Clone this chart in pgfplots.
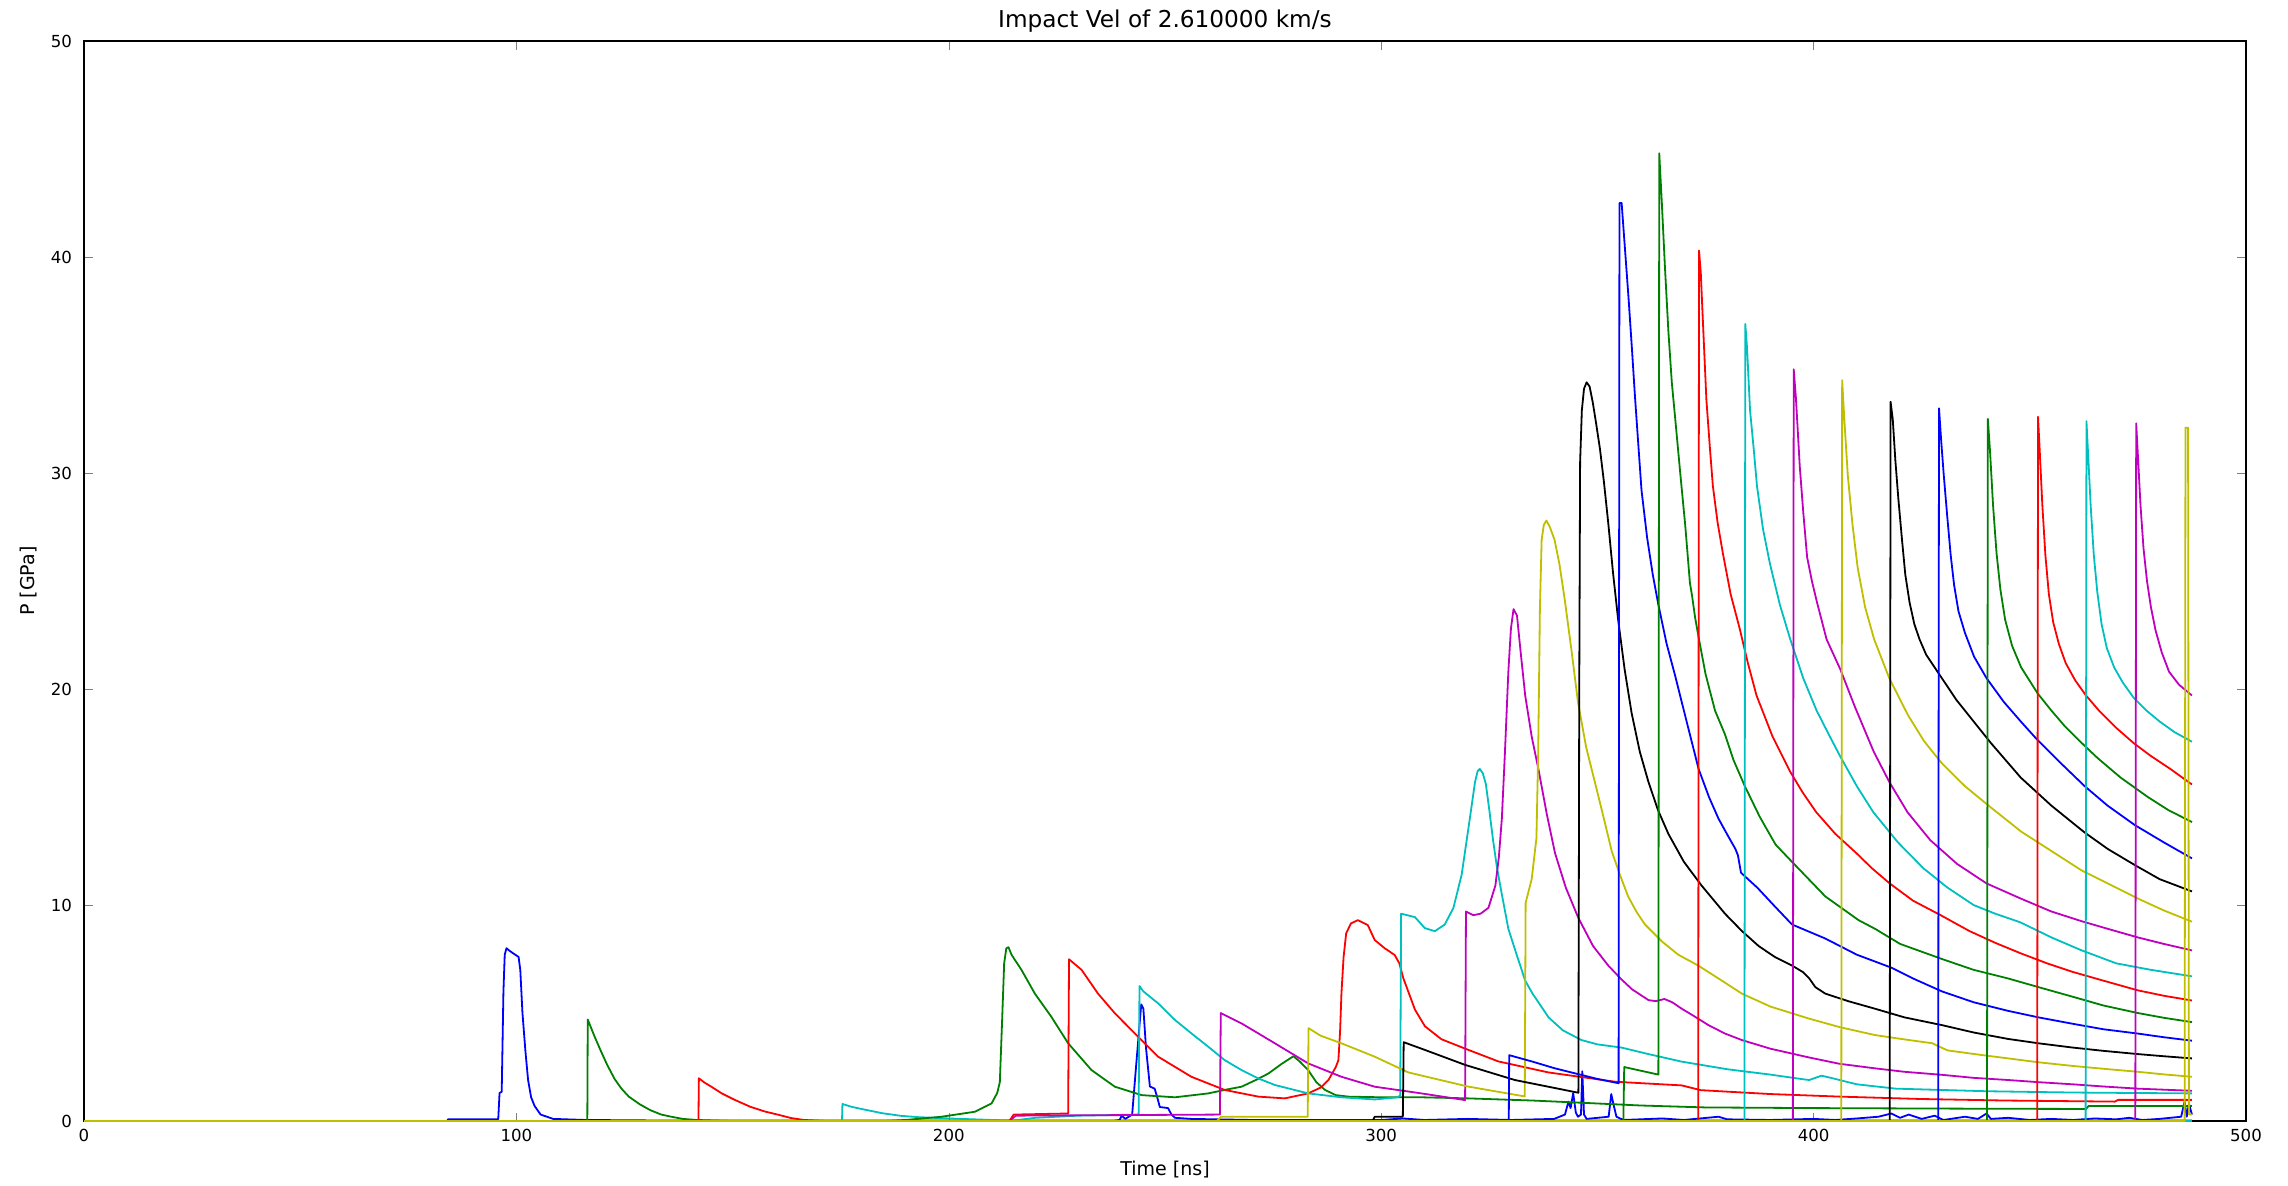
\documentclass[border=0pt]{standalone}
\usepackage{fontspec}
\setmainfont{DejaVu Sans}
\usepackage{pgfplots}
\pgfplotsset{compat=1.18}
\definecolor{mb}{rgb}{0,0,1}
\definecolor{mg}{rgb}{0,0.5,0}
\definecolor{mr}{rgb}{1,0,0}
\definecolor{mc}{rgb}{0,0.75,0.75}
\definecolor{mm}{rgb}{0.75,0,0.75}
\definecolor{my}{rgb}{0.75,0.75,0}
\definecolor{mk}{rgb}{0,0,0}
\begin{document}
\begin{tikzpicture}
\begin{axis}[
 scale only axis, width=1081pt, height=540pt,
 xmin=0, xmax=500, ymin=0, ymax=50,
 xtick={0,100,200,300,400,500}, ytick={0,10,20,30,40,50},
 tick align=inside,
 /pgf/number format/assume math mode=true,
 tick label style={font=\fontsize{8.3}{10}\selectfont},
 xticklabel style={yshift=-0.5pt},
 yticklabel style={xshift=-2.5pt},
 every axis title shift=0pt,
 title={Impact Vel of 2.610000 km/s},
 title style={at={(axis description cs:0.5,1)},anchor=base,yshift=6.6pt,inner sep=0pt,font=\fontsize{11.6}{14}\selectfont},
 xlabel={Time [ns]},
 xlabel style={at={(axis description cs:0.5,0)},anchor=base,yshift=-27pt,inner sep=0pt,font=\fontsize{9.5}{12}\selectfont},
 ylabel={P [GPa]},
 ylabel style={at={(axis description cs:-0.02544,0.5)},anchor=center,inner sep=0pt,font=\fontsize{9.5}{12}\selectfont},
 axis line style={line width=0.9pt},
 every axis plot/.append style={line width=0.9pt,line join=round},
]
% b1
\addplot[mb] coordinates {(0,0) (84,0) (84.2,0.08) (95.8,0.08) (96.1,1.3) (96.6,1.35) (97.0,6.0) (97.3,7.7) (97.7,8.0) (98.3,7.9) (99,7.8) (100.5,7.6) (100.9,7.0) (101.4,5.0) (102.1,3.2) (102.7,1.9) (103.4,1.1) (104.2,0.7) (105.6,0.3) (108.5,0.1) (115.9,0.05) (130,0.03) (200,0.02) (487.5,0.02)};
% g2
\addplot[mg] coordinates {(0,0) (116.4,0) (116.5,4.7) (117.3,4.3) (118,3.95) (119.4,3.3) (121,2.6) (122.7,1.95) (124.3,1.5) (126,1.13) (128.5,0.78) (131,0.5) (133.5,0.3) (135.8,0.2) (138.5,0.1) (141.6,0.05) (150,0) (487.5,0)};
% r3
\addplot[mr] coordinates {(0,0) (142.1,0) (142.2,1.98) (143.5,1.78) (145,1.6) (147.5,1.28) (150.5,0.98) (154.1,0.66) (157.5,0.44) (160.8,0.28) (163.5,0.14) (166.5,0.05) (172,0) (487.5,0)};
% c4
\addplot[mc] coordinates {(0,0) (175.3,0) (175.4,0.79) (177.5,0.66) (180,0.55) (184.7,0.36) (189,0.24) (193,0.18) (200,0.12) (210,0.05) (220,0) (487.5,0)};
% b8 (spike and noise)
\addplot[mb] coordinates {(0,0) (238,0) (239.5,0.05) (240,0.25) (240.8,0.1) (242.4,0.3) (243.5,3.0) (244.5,5.4) (245,5.2) (245.6,3.4) (246.5,1.6) (247.6,1.5) (248.2,1.1) (248.8,0.65) (250.7,0.6) (251.5,0.3) (252.3,0.15) (256,0.1) (270,0.05) (300,0.05) (305,0.12) (310,0.05) (320,0.1) (330,0.05) (340,0.1) (342.5,0.3) (343.3,0.9) (343.8,0.6) (344.4,1.3) (345,0.4) (345.5,0.2) (346.2,0.3) (346.5,2.3) (346.9,0.3) (347.5,0.1) (352.6,0.2) (353.2,1.25) (353.8,0.7) (354.4,0.2) (356,0.05) (365,0.12) (370,0.05) (378,0.2) (380,0.08) (390,0.05) (400,0.1) (405,0.05) (410,0.12) (415,0.2) (418,0.35) (420,0.15) (422,0.3) (425,0.1) (428,0.25) (430,0.05) (435,0.2) (438,0.1) (440,0.35) (441,0.1) (445,0.15) (450,0.05) (455,0.1) (460,0.05) (465,0.12) (470,0.08) (473,0.15) (476,0.05) (480,0.1) (485,0.2) (485.8,0.9) (486.3,0.2) (486.8,0.8) (487.5,0.3)};
% g9
\addplot[mg] coordinates {(0,0) (185,0) (190,0.05) (198.3,0.2) (206,0.43) (209.9,0.82) (211.2,1.3) (211.8,1.8) (212.3,4.5) (212.8,7.3) (213.3,8.0) (213.8,8.05) (214.5,7.7) (216.8,7.0) (219.9,5.9) (223.7,4.83) (227.6,3.6) (233,2.36) (238.4,1.59) (244.6,1.2) (252.3,1.1) (260,1.28) (264,1.45) (267.7,1.59) (271,1.9) (273.9,2.2) (277,2.65) (279.7,3.0) (281.2,2.75) (283.1,2.36) (285,1.8) (287,1.44) (289.5,1.2) (292.4,1.13) (300,1.1) (309.3,1.1) (320,1.05) (335,0.95) (346,0.85) (360,0.72) (375,0.63) (400,0.6) (440,0.57) (463,0.56) (463.6,0.7) (487.5,0.7)};
% r10
\addplot[mr] coordinates {(0,0) (214,0) (215,0.3) (227.6,0.35) (227.8,7.49) (230.7,7.0) (234.5,5.9) (238.4,4.99) (243,4.06) (248.4,2.98) (256.1,2.05) (263.8,1.44) (271.6,1.13) (277.7,1.05) (283.1,1.28) (286,1.55) (287.8,1.9) (289.5,2.5) (290.1,2.82) (290.5,4.2) (290.8,5.9) (291.3,7.6) (291.9,8.69) (293,9.15) (294.6,9.3) (296.9,9.07) (298.5,8.38) (300.8,8.0) (303.1,7.69) (304.2,7.3) (305.1,6.62) (307.8,5.16) (310.1,4.39) (313.9,3.79) (319.3,3.36) (327.1,2.76) (338.7,2.25) (354.1,1.82) (369.5,1.65) (373.9,1.43) (390,1.25) (406.2,1.13) (425,1.02) (444.3,0.95) (469.7,0.9) (470.4,0.98) (487.5,0.98)};
% c11
\addplot[mc] coordinates {(0,0) (214,0) (220,0.15) (230,0.25) (243.9,0.3) (244.1,6.25) (245,6.0) (248.4,5.45) (252.3,4.68) (256.1,4.06) (260,3.44) (263.8,2.82) (267.7,2.36) (271.6,1.97) (275.4,1.67) (283.1,1.28) (290.8,1.1) (298.5,1.0) (303.9,1.1) (304.4,1.2) (304.6,9.6) (307.8,9.44) (310.1,8.93) (312.4,8.79) (314.7,9.1) (316.7,9.87) (318.6,11.4) (320.2,13.6) (321.7,15.7) (322.3,16.2) (322.8,16.3) (323.5,16.1) (324.2,15.6) (325,14.4) (325.9,12.95) (326.8,11.7) (327.8,10.6) (329.4,8.9) (331,7.9) (333.3,6.5) (335,5.9) (338.7,4.8) (342,4.2) (346.3,3.75) (350,3.55) (355.6,3.4) (361.8,3.1) (369.5,2.75) (380,2.4) (390,2.15) (397,1.95) (399,1.9) (401.8,2.1) (404,2.0) (410,1.7) (419,1.5) (440,1.38) (460,1.32) (487.5,1.28)};
% m12
\addplot[mm] coordinates {(0,0) (214,0) (215.5,0.25) (262.7,0.3) (262.9,5.0) (267.7,4.52) (275.4,3.6) (283.1,2.67) (290.8,2.05) (298.5,1.59) (309.3,1.28) (319.4,0.97) (319.6,9.7) (321.3,9.53) (323,9.6) (324.8,9.87) (326.4,10.9) (327.2,12.2) (327.9,14.0) (328.6,17.0) (329.4,20.8) (330,22.8) (330.6,23.7) (331.4,23.4) (332.2,21.8) (333.3,19.7) (334.8,17.8) (336.4,16.25) (338.3,14.2) (340.2,12.4) (342.7,10.8) (345.6,9.4) (349,8.1) (352.5,7.2) (355.6,6.55) (358,6.1) (361.8,5.6) (363.5,5.55) (365.5,5.65) (367.3,5.5) (369.5,5.2) (372,4.9) (375.6,4.45) (379.5,4.05) (383.4,3.75) (390,3.35) (398.8,2.95) (406,2.65) (414.2,2.44) (421,2.28) (429.7,2.14) (437,2.0) (445,1.9) (452,1.8) (460,1.7) (467,1.6) (475,1.5) (487.5,1.4)};
% y13
\addplot[my] coordinates {(0,0) (262,0) (263,0.2) (283,0.2) (283.2,4.3) (286,3.95) (290.8,3.6) (298.5,2.98) (306.3,2.25) (320,1.6) (333.2,1.14) (333.4,10.1) (334.8,11.2) (335.9,13.1) (336.3,17) (336.7,23.7) (337.1,26.9) (337.6,27.6) (338.2,27.8) (339,27.5) (340.1,26.9) (341.2,25.8) (342.4,24.2) (344,21.8) (345.5,19.4) (347.4,17.3) (349.4,15.7) (351.5,14) (353.3,12.5) (355.2,11.4) (357.1,10.4) (359,9.7) (361,9.1) (365,8.3) (368.7,7.7) (373.3,7.2) (378,6.6) (383.4,5.9) (390,5.3) (398.8,4.75) (406,4.35) (414.2,3.98) (421,3.78) (427.5,3.6) (429,3.45) (431,3.27) (438,3.08) (445,2.9) (452,2.72) (460,2.55) (467,2.42) (475,2.28) (481,2.16) (487.5,2.05)};
% k14
\addplot[mk] coordinates {(0,0) (298,0) (298.5,0.2) (305,0.2) (305.2,3.65) (310,3.3) (319.4,2.6) (330.9,1.9) (345.6,1.31) (345.8,20) (346.0,30.5) (346.4,32.9) (346.9,33.9) (347.5,34.2) (348.2,34.0) (348.9,33.3) (349.7,32.3) (350.6,31.1) (351.5,29.6) (352.5,27.7) (353.6,25.4) (354.8,23.2) (356.3,20.9) (357.9,18.9) (359.8,17.1) (361.8,15.7) (364,14.4) (366.4,13.3) (370,12) (374.1,10.9) (379.5,9.6) (383.4,8.8) (387.3,8.1) (391,7.6) (395,7.2) (397.5,6.9) (399,6.6) (400.4,6.2) (402.7,5.9) (408,5.55) (414.2,5.2) (421,4.8) (429.7,4.44) (437,4.1) (445,3.8) (452,3.6) (460,3.4) (467,3.25) (475,3.1) (481,3.0) (487.5,2.9)};
% b15
\addplot[mb] coordinates {(0,0) (329.5,0) (329.6,3.05) (335,2.75) (340,2.45) (345,2.2) (350,1.95) (354.9,1.75) (355.1,42.5) (355.6,42.5) (356.4,40.3) (357.2,38.1) (358,35.7) (358.7,33.5) (359.5,31.2) (360.2,29.2) (361.5,27) (362.8,25.3) (364.1,23.9) (366,22.1) (368,20.6) (370.5,18.6) (373.4,16.3) (375.8,15) (378,14) (380.2,13.2) (381.9,12.6) (382.5,12.3) (383.2,11.5) (384,11.35) (387,10.8) (391.2,9.9) (395,9.1) (402.7,8.45) (410,7.7) (418,7.1) (423,6.6) (429.7,6.0) (437,5.5) (445,5.1) (452,4.8) (460,4.5) (467,4.25) (475,4.05) (481,3.88) (487.5,3.72)};
% g16
\addplot[mg] coordinates {(0,0) (356,0) (356.2,2.5) (364.1,2.15) (364.3,44.8) (364.9,42.5) (365.6,39.6) (366.4,36.6) (367.2,34.2) (368,32.5) (369.2,29.9) (370.3,27.6) (371.4,24.9) (371.9,24.3) (372.6,23.3) (373.4,22.4) (375,20.7) (377.2,19.0) (379.5,17.9) (381.5,16.7) (384.1,15.5) (387.5,14.1) (391.2,12.8) (395,12.0) (402.7,10.4) (410.4,9.3) (414.2,8.9) (420,8.2) (429.7,7.5) (437,7.0) (445,6.6) (452,6.2) (460,5.75) (467,5.35) (475,5.0) (481,4.78) (487.5,4.58)};
% r17
\addplot[mr] coordinates {(0,0) (373.3,0) (373.5,40.3) (373.9,39.3) (374.4,37) (375.2,33.4) (376.0,31.2) (376.7,29.4) (377.8,27.7) (379,26.3) (380.8,24.4) (382.9,22.8) (384.8,21.2) (386.8,19.7) (390.5,17.8) (394.5,16.2) (397.5,15.2) (400.6,14.3) (405,13.3) (409.9,12.4) (413.5,11.7) (417.6,11.0) (423,10.2) (429.2,9.55) (436,8.8) (442,8.25) (447.7,7.78) (454,7.3) (460,6.9) (467,6.5) (475,6.05) (481,5.8) (487.5,5.58)};
% c18
\addplot[mc] coordinates {(0,0) (384,0) (384.2,36.9) (384.6,35.8) (385.3,32.9) (386.2,31) (386.9,29.4) (388.3,27.4) (389.9,25.8) (392.2,23.9) (394.6,22.3) (397.6,20.5) (400.7,19.0) (403.5,17.9) (406.1,16.9) (410,15.5) (413.8,14.3) (419.5,12.9) (425.4,11.7) (431,10.8) (437,10.0) (442,9.6) (447.8,9.2) (455,8.5) (462,7.9) (470,7.3) (478,7.0) (487.5,6.7)};
% m19
\addplot[mm] coordinates {(0,0) (395.2,0) (395.4,34.8) (395.9,33.5) (396.8,30.3) (397.6,28.2) (398.5,26.1) (399.6,25) (400.8,24.0) (403,22.3) (406.2,20.9) (409.5,19.2) (413.9,17.1) (417.5,15.7) (421.7,14.3) (427,13.0) (433.2,11.9) (440,11.0) (447.9,10.3) (455,9.7) (462,9.25) (468,8.9) (475,8.5) (481,8.2) (487.5,7.9)};
% y20
\addplot[my] coordinates {(0,0) (406.4,0) (406.6,34.3) (407.1,32.5) (407.9,29.9) (409,27.6) (410.2,25.6) (411.9,23.8) (414,22.3) (417.5,20.5) (421.8,18.8) (425.5,17.6) (429.5,16.6) (435,15.5) (441.1,14.5) (448,13.4) (455,12.5) (462,11.6) (468,11.0) (475,10.3) (481,9.75) (487.5,9.23)};
% k21
\addplot[mk] coordinates {(0,0) (417.6,0) (417.8,33.3) (418.3,32.5) (418.9,30.6) (419.6,28.8) (420.4,27) (421.2,25.3) (422.2,24) (423.3,23.0) (424.5,22.3) (426,21.6) (428,21.0) (430,20.4) (433,19.5) (437,18.5) (441,17.5) (447.9,15.9) (455,14.6) (462.6,13.37) (468,12.6) (474.2,11.86) (480,11.2) (487.5,10.63)};
% b22
\addplot[mb] coordinates {(0,0) (428.8,0) (429,33.0) (429.5,31.5) (430.1,29.9) (430.9,28.0) (431.7,26.2) (432.5,24.8) (433.5,23.6) (435,22.6) (437.1,21.5) (440,20.5) (444,19.4) (447.9,18.5) (451.5,17.7) (457,16.6) (462.7,15.5) (468,14.6) (474.3,13.7) (481,12.9) (487.5,12.16)};
% g23
\addplot[mg] coordinates {(0,0) (440.1,0) (440.3,32.5) (440.8,31) (441.5,28.5) (442.3,26.3) (443.2,24.6) (444.3,23.2) (445.9,22.0) (448,21.0) (451.8,19.8) (455,19.0) (458,18.3) (462,17.5) (465.7,16.8) (471,15.9) (477.3,15.0) (482,14.4) (487.5,13.84)};
% r24
\addplot[mr] coordinates {(0,0) (451.7,0) (451.9,32.6) (452.3,31) (452.9,28.5) (453.6,26.2) (454.4,24.4) (455.4,23.1) (456.7,22.1) (458.3,21.2) (460.5,20.4) (463,19.7) (466,19.0) (470,18.2) (474,17.5) (478,16.9) (482.5,16.3) (487.5,15.58)};
% c25
\addplot[mc] coordinates {(0,0) (462.9,0) (463.1,32.4) (463.5,30.8) (464.1,28.4) (464.8,26.2) (465.6,24.5) (466.6,23) (467.8,21.9) (469.5,21.0) (471.5,20.3) (474,19.6) (477,19.0) (480,18.5) (483.5,18.0) (487.5,17.56)};
% m26
\addplot[mm] coordinates {(0,0) (474.4,0) (474.6,32.3) (475.0,30.8) (475.6,28.5) (476.3,26.5) (477.1,25.0) (478.0,23.8) (479.1,22.7) (480.5,21.7) (482.2,20.8) (484.5,20.2) (487.5,19.7)};
% y27
\addplot[my] coordinates {(0,0) (485.8,0) (486.0,32.1) (486.6,32.1) (486.8,0.3) (487.5,0.3)};
\end{axis}
\pgfresetboundingbox
\path[use as bounding box] ([shift={(-42pt,-32pt)}]current axis.south west) rectangle ([shift={(21pt,20.5pt)}]current axis.north east);
\end{tikzpicture}
\end{document}
